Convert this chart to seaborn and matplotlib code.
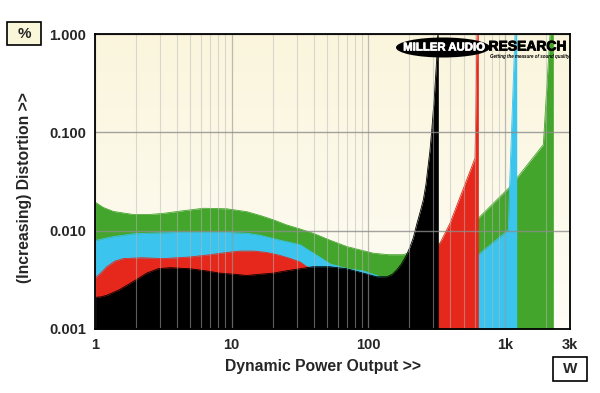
import numpy as np
import matplotlib
matplotlib.use("Agg")
import matplotlib.pyplot as plt
import matplotlib.patheffects as pe
import seaborn as sns
from matplotlib.patches import Ellipse, Rectangle
from matplotlib.colors import LinearSegmentedColormap
from matplotlib.ticker import FixedLocator, FixedFormatter, LogLocator, NullFormatter

# ---------------- data (power in W, distortion in %) ----------------
green_x = [1.0, 1.15, 1.36, 1.91, 2.5, 3.16, 4.5, 6.21, 9.2, 12.9, 16.1, 20.2, 25, 31.7, 39.6, 52.5, 69.6, 90, 109, 140, 181, 200, 214, 326, 640, 1092, 1914, 2143, 2265]
green_y = [0.0195, 0.0172, 0.0157, 0.0146, 0.0146, 0.0150, 0.0160, 0.0169, 0.0167, 0.0156, 0.0143, 0.0129, 0.0115, 0.0104, 0.0094, 0.0080, 0.0069, 0.0063, 0.0059, 0.0057, 0.0057, 0.0060, 0.0064, 0.0073, 0.0134, 0.028, 0.075, 1.0, 1.0]

blue_x = [1.0, 1.15, 1.36, 1.91, 3.0, 4.19, 9.2, 13.0, 16.1, 22.6, 31.7, 35.5, 44, 52.5, 70, 92.1, 122, 150, 250, 400, 640, 1061, 1085, 1187, 1222]
blue_y = [0.0079, 0.0083, 0.0087, 0.0093, 0.0095, 0.0096, 0.0096, 0.0094, 0.0090, 0.0080, 0.0072, 0.0065, 0.0054, 0.0046, 0.0041, 0.0039, 0.0034, 0.0032, 0.0040, 0.0050, 0.0057, 0.0102, 0.0300, 1.0, 1.0]

red_x = [1.0, 1.1, 1.22, 1.4, 1.61, 2.2, 3.16, 4.96, 7.0, 9.2, 11.5, 14.5, 18.1, 22.6, 27, 31.7, 35.5, 60, 120, 180, 250, 326, 397, 605, 626, 640]
red_y = [0.0033, 0.0037, 0.0043, 0.0049, 0.0052, 0.0053, 0.0052, 0.0054, 0.0057, 0.0060, 0.0062, 0.0062, 0.0060, 0.0056, 0.0052, 0.0048, 0.0043, 0.0035, 0.0030, 0.0038, 0.0055, 0.0069, 0.0119, 0.0545, 1.0, 1.0]

black_x = [1.0, 1.1, 1.22, 1.5, 1.8, 2.1, 2.39, 2.9, 3.54, 4.96, 6.5, 8.2, 10.5, 12.9, 16, 20.2, 25, 31.7, 39.6, 52, 69.6, 92, 115, 137, 150, 162, 175, 190, 202, 214, 226, 240, 253, 265, 272, 283, 292, 305, 317, 323, 326]
black_y = [0.0021, 0.00212, 0.0022, 0.0025, 0.0029, 0.0033, 0.0037, 0.0041, 0.0042, 0.0041, 0.0039, 0.0037, 0.0036, 0.0035, 0.0036, 0.0037, 0.0039, 0.0041, 0.0043, 0.0043, 0.0041, 0.0037, 0.0034, 0.0034, 0.0036, 0.0040, 0.0046, 0.0056, 0.0068, 0.0085, 0.0115, 0.0155, 0.0205, 0.030, 0.041, 0.065, 0.106, 0.232, 0.55, 1.0, 1.0]

x_ticks = [1, 10, 100, 1000, 3000]
x_tick_labels = ["1", "10", "100", "1k", "3k"]
y_ticks = [0.001, 0.01, 0.1, 1.0]
y_tick_labels = ["0.001", "0.010", "0.100", "1.000"]

series = [
    (green_x, green_y, "#44A52C"),
    (blue_x, blue_y, "#3AC4EE"),
    (red_x, red_y, "#E5281B"),
    (black_x, black_y, "#000000"),
]

# ---------------- style ----------------
sns.set_style("white")
plt.rcParams['font.family'] = ['Liberation Sans', 'DejaVu Sans']
plt.rcParams['font.weight'] = 'bold'

W, H = 600, 393
fig = plt.figure(figsize=(6.0, 3.93), dpi=100)
L, R, T, B = 95, 570, 34, 329
rect = [L / W, 1 - B / H, (R - L) / W, (B - T) / H]

# background gradient axes
bg = fig.add_axes(rect, zorder=0)
grad = np.linspace(0, 1, 256).reshape(-1, 1)
cmap = LinearSegmentedColormap.from_list('bg', ['#FEFDF6', '#FAF5DC'])
bg.imshow(grad, extent=[0, 1, 0, 1], aspect='auto', cmap=cmap, origin='lower')
bg.set_axis_off()

ax = fig.add_axes(rect, zorder=1)
ax.set_facecolor('none')
ax.set_xscale('log')
ax.set_yscale('log')

ymin = y_ticks[0]
for i, (xs, ys, col) in enumerate(series):
    ax.fill_between(xs, ys, ymin, color=col, lw=0, zorder=1.1 + i * 0.1)
    sns.lineplot(x=xs, y=ys, color=col, lw=0.6, ax=ax, sort=False,
                 estimator=None, legend=False, zorder=1.15 + i * 0.1)

ax.set_xlim(1, 3000)
ax.set_ylim(0.001, 1.0)

ax.xaxis.set_major_locator(FixedLocator(x_ticks))
ax.xaxis.set_major_formatter(FixedFormatter(x_tick_labels))
ax.xaxis.set_minor_locator(LogLocator(base=10, subs=range(2, 10), numticks=20))
ax.xaxis.set_minor_formatter(NullFormatter())
ax.yaxis.set_major_locator(FixedLocator(y_ticks))
ax.yaxis.set_major_formatter(FixedFormatter(y_tick_labels))
ax.yaxis.set_minor_locator(LogLocator(base=10, subs=range(2, 10), numticks=20))
ax.yaxis.set_minor_formatter(NullFormatter())

ax.set_axisbelow(False)
ax.grid(which='minor', axis='x', color='#b8b8b8', alpha=0.5, lw=0.8)
ax.grid(which='major', axis='x', color='#999999', alpha=0.65, lw=0.9)
ax.grid(which='major', axis='y', color='#8c8c8c', alpha=0.8, lw=1.0)

ax.tick_params(which='major', direction='out', length=4, width=0.9, color='black',
               labelsize=10.5, pad=2.5)
ax.tick_params(which='minor', direction='out', length=2.5, width=0.8, color='black')
for lab in ax.get_xticklabels() + ax.get_yticklabels():
    lab.set_fontweight('bold')

for sp in ax.spines.values():
    sp.set_visible(True)
    sp.set_color('black')
    sp.set_linewidth(1.3)
    sp.set_zorder(5)

ax.set_xlabel("Dynamic Power Output >>", fontsize=11.3, fontweight='bold')
ax.xaxis.set_label_coords((323 - L) / (R - L), -(366 - B) / (B - T))
ax.xaxis.label.set_va('center')
ax.set_ylabel("(Increasing) Distortion >>", fontsize=11.3, fontweight='bold')
ax.yaxis.set_label_coords((25 - L) / (R - L), (B - 188) / (B - T))
ax.yaxis.label.set_va('center')

# logo
def axc(px, py):
    return ((px - L) / (R - L), (B - py) / (B - T))

ex, ey = axc(443, 47.5)
ax.add_patch(Ellipse((ex, ey), 94 / (R - L), 20 / (B - T), transform=ax.transAxes,
                     facecolor='black', edgecolor='none', zorder=6, clip_on=False))
tx0, _ = axc(444, 47.5)
ax.text(tx0, ey, "MILLER AUDIO", transform=ax.transAxes, color='white', fontsize=8.2,
        fontweight='bold', ha='center', va='center', zorder=7,
        path_effects=[pe.withStroke(linewidth=0.5, foreground='white')])
rx, ry = axc(488.5, 46.5)
ax.text(rx, ry, "RESEARCH", transform=ax.transAxes, color='black', fontsize=10.0,
        fontweight='bold', ha='left', va='center', zorder=7,
        path_effects=[pe.withStroke(linewidth=0.6, foreground='black')])
tx, ty = axc(490, 56.5)
ax.text(tx, ty, "Getting the measure of sound quality", transform=ax.transAxes,
        color='black', fontsize=3.25, fontweight='bold', fontstyle='italic',
        ha='left', va='center', zorder=7)

# unit boxes
def box(x0, y0, x1, y1, txt, fc):
    fig.patches.append(Rectangle((x0 / W, 1 - y1 / H), (x1 - x0) / W, (y1 - y0) / H,
                                 transform=fig.transFigure, facecolor=fc,
                                 edgecolor='black', lw=1.2, zorder=3))
    fig.text((x0 + x1) / 2 / W, 1 - (y0 + y1) / 2 / H, txt, fontsize=11,
             fontweight='bold', ha='center', va='center', zorder=4)

box(7, 22, 41, 45, "%", '#FAF6DA')
box(553, 357, 587, 381, "W", 'white')

fig.savefig("out.png", dpi=100)
